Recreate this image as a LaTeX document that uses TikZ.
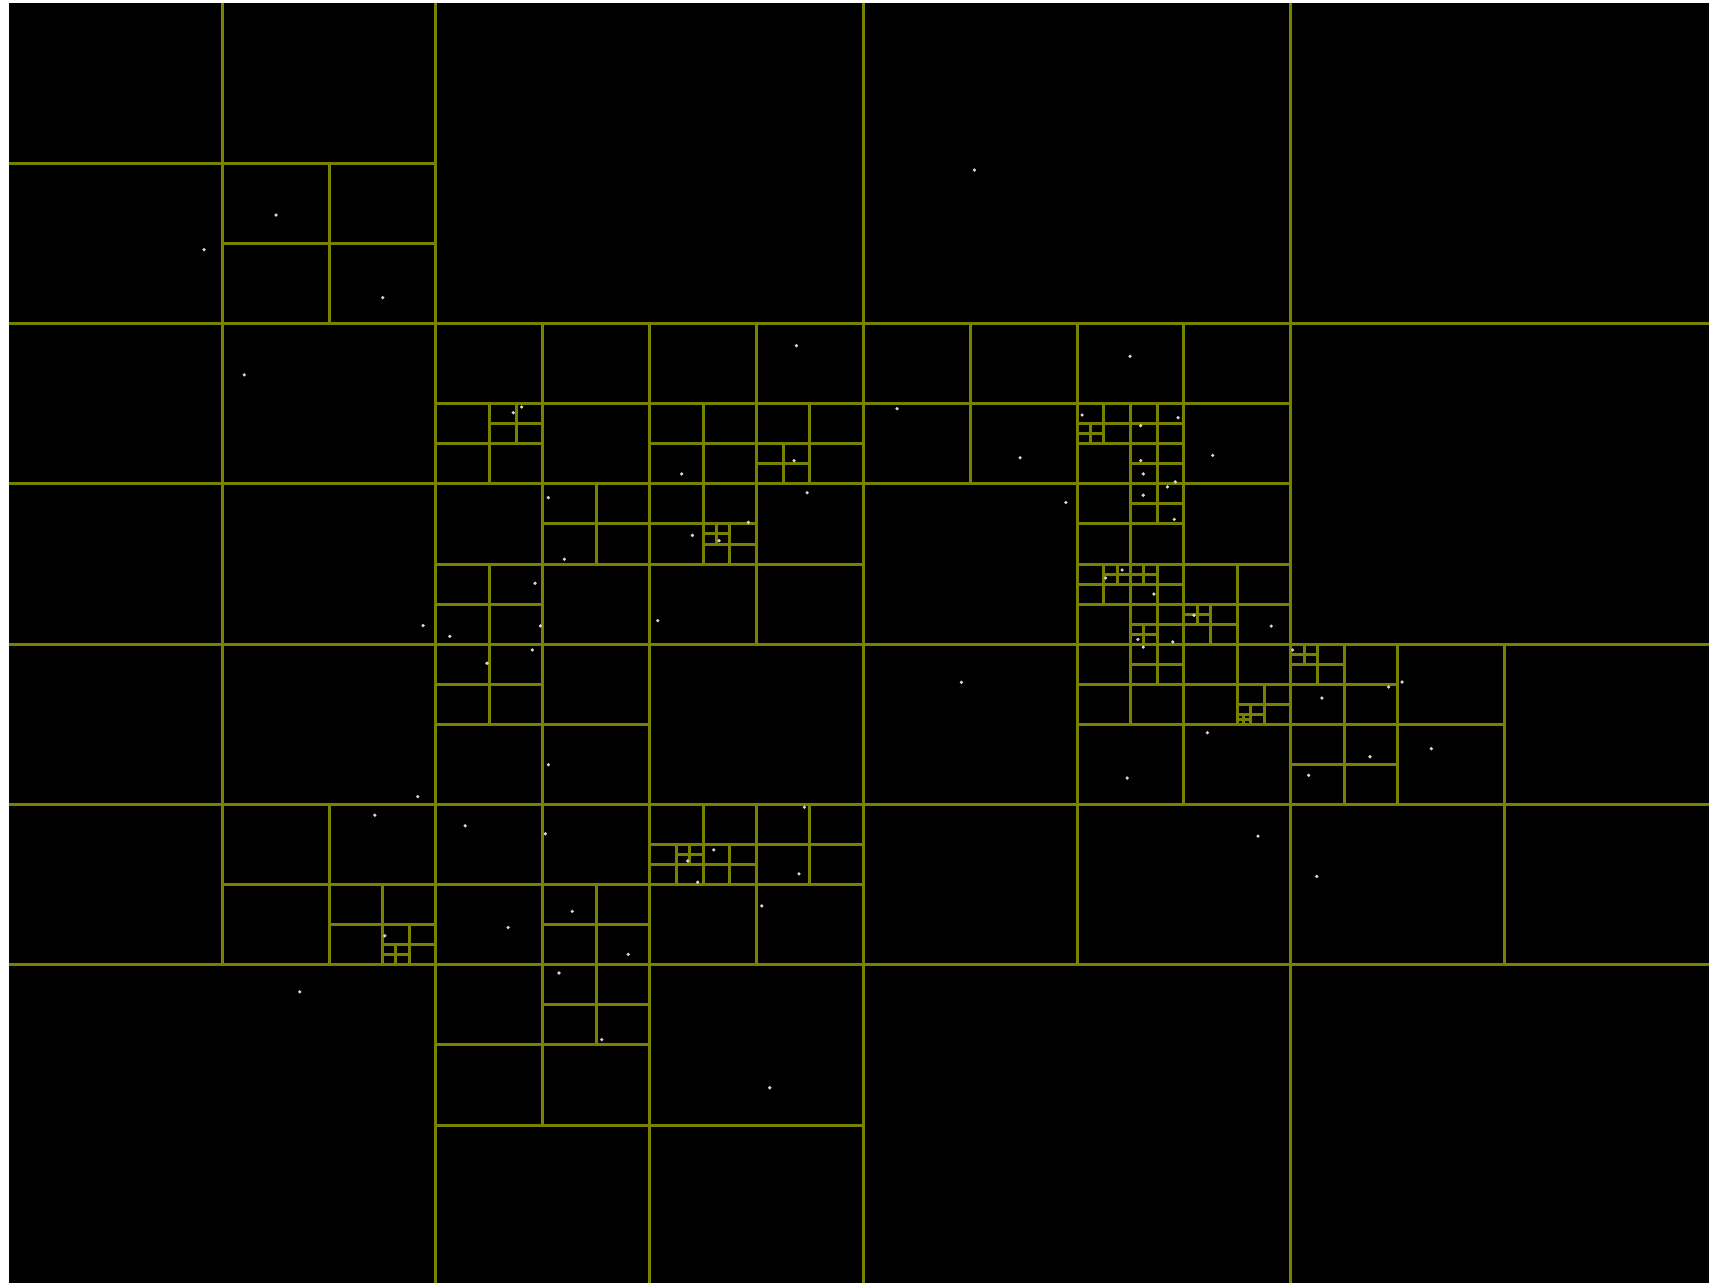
\documentclass[tikz,border=0pt]{standalone}
\usepackage{tikz}
\usetikzlibrary{calc}
\usepackage{xcolor}
\definecolor{quadline}{RGB}{122,128,0}
\definecolor{quaddot}{RGB}{215,215,215}

\begin{document}
\begin{tikzpicture}[x=2.137cm, y=-1.603cm,
        cell/.style={quadline, line width=0.85pt},
        sample/.style={fill=quaddot}]
        % Canvas (page shows a thin white strip left and top)
        \useasboundingbox (-0.0398,-0.0187) rectangle (7.9574,7.985);
        \fill[black] (0,0) rectangle (8,8);

        % Quadtree splits: x/y/size of each divided cell
        \foreach \x/\y/\s in {0/0/8,
            0/0/4, 4/0/4, 0/4/4, 4/4/4,
            0/0/2, 0/2/2, 2/2/2, 4/2/2, 0/4/2, 2/4/2, 4/4/2, 6/4/2, 2/6/2,
            1/1/1, 2/2/1, 3/2/1, 2/3/1, 3/3/1, 4/2/1, 5/2/1, 5/3/1, 5/4/1,
            6/4/1, 2/4/1, 1/5/1, 2/5/1, 3/5/1, 2/6/1,
            2/2.5/.5, 3/2.5/.5, 3.5/2.5/.5, 2.5/3/.5, 2/3.5/.5, 3/3/.5,
            5/2.5/.5, 5/3/.5, 5/3.5/.5, 5.5/3.5/.5, 5/4/.5, 5.5/4/.5,
            6/4/.5, 6/4.5/.5, 2/4/.5, 1.5/5.5/.5, 2.5/5.5/.5, 3/5/.5,
            3.5/5/.5, 2.5/6/.5,
            2.25/2.5/.25, 3.5/2.75/.25, 3.25/3.25/.25, 5/2.5/.25,
            5.25/2.5/.25, 5.25/2.75/.25, 5.25/3/.25, 5/3.5/.25,
            5.25/3.5/.25, 5.25/3.75/.25, 5.5/3.75/.25, 5.25/4/.25,
            5.75/4.25/.25, 6/4/.25, 1.75/5.75/.25, 3/5.25/.25, 3.25/5.25/.25,
            3.25/3.25/.125, 5/2.625/.125, 5.125/3.5/.125, 5.25/3.5/.125,
            5.25/3.875/.125, 5.5/3.75/.125, 5.75/4.375/.125, 6/4/.125,
            1.75/5.875/.125, 3.125/5.25/.125,
            5.75/4.4375/.0625} {
            \draw[cell] (\x+\s/2,\y) -- ++(0,\s);
            \draw[cell] (\x,\y+\s/2) -- ++(\s,0);
        }

        % Sample points
        \foreach \x/\y in {1.252/1.323, 0.915/1.539, 1.751/1.838, 1.103/2.320,
            2.362/2.556, 2.401/2.520, 3.687/2.138, 3.150/2.938, 3.676/2.855,
            2.526/3.086, 2.601/3.470, 2.464/3.620, 2.489/3.886, 2.065/3.951,
            1.940/3.884, 3.200/3.321, 3.325/3.354, 3.462/3.240, 3.737/3.055,
            3.038/3.853,
            4.520/1.042, 4.158/2.531, 4.734/2.837, 4.948/3.116, 5.248/2.204,
            5.024/2.570, 5.298/2.637, 5.473/2.587, 5.635/2.822, 5.298/2.855,
            5.310/2.938, 5.460/2.988, 5.423/3.019, 5.310/3.071, 5.455/3.221,
            5.211/3.537, 5.134/3.587, 5.360/3.687, 5.547/3.820, 5.909/3.887,
            5.285/3.970, 5.448/3.986,
            5.310/4.018, 6.009/4.036, 6.146/4.336, 6.458/4.267, 6.521/4.236,
            5.610/4.552, 5.235/4.835, 6.371/4.702, 6.658/4.652, 6.084/4.818,
            4.459/4.238, 5.847/5.197, 6.122/5.449,
            2.451/4.036, 2.239/4.119, 2.526/4.752, 1.915/4.951, 1.714/5.067,
            1.761/5.819, 2.137/5.133, 2.512/5.183, 2.338/5.767, 2.638/5.667,
            2.900/5.935, 3.178/5.352, 3.225/5.485, 3.300/5.283, 3.724/5.017,
            3.699/5.433, 3.525/5.633, 1.363/6.169, 2.576/6.051, 2.776/6.467,
            3.562/6.767} {
            \fill[sample] (\x,\y) circle[radius=0.018cm];
        }
\end{tikzpicture}
\end{document}
